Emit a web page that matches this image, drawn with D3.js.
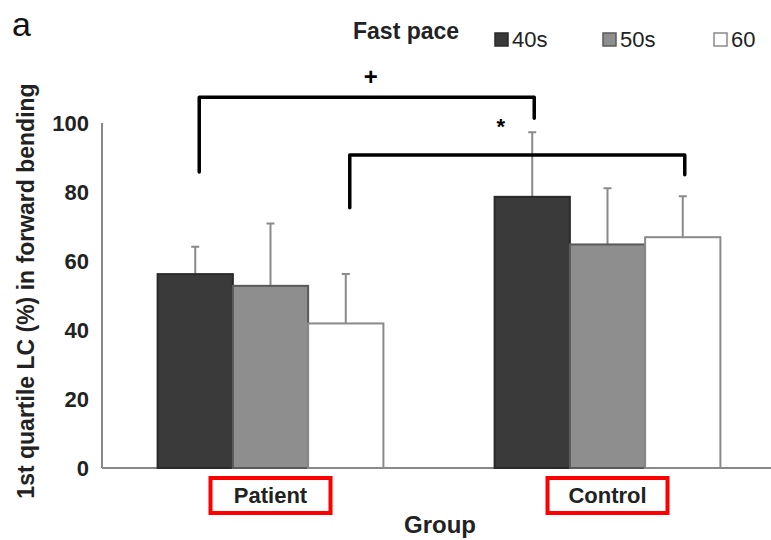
<!DOCTYPE html>
<html>
<head>
<meta charset="utf-8">
<script src="https://cdn.jsdelivr.net/npm/d3@7"></script>
<style>
body { margin: 0; background: #fff; }
text { font-family: "Liberation Sans", Arial, sans-serif; }
</style>
</head>
<body>
<script>
//data
var groups = ["Patient", "Control"];
var series = ["40s", "50s", "60"];
var means = [[56.2, 52.8, 41.9], [78.6, 64.8, 66.9]];
var errs = [[7.9, 18.1, 14.3], [18.7, 16.3, 11.9]];
var yTicks = [0, 20, 40, 60, 80, 100];
// brackets: [from group, from series, to group, to series, level, left leg end, right leg end, mark]
var brackets = [
    [0, 0, 1, 0, 107.5, 85.8, 101.4, "+"],
    [0, 2, 1, 2, 90.7, 75.4, 85, "*"]
];

var W = 771, H = 540;
var m = [123, 0, 72, 102]; //top right bottom left
var fills = ["#3a3a3a", "#8e8e8e", "#ffffff"];
var strokes = ["#2a2a2a", "#5a5a5a", "#8a8a8a"];

var svg = d3.select("body").append("svg")
    .attr("width", W)
    .attr("height", H);

//scales
var x0 = d3.scaleBand()
    .domain(groups)
    .range([m[3], 776])
    .paddingInner(0.33)
    .paddingOuter(0.165);
var x1 = d3.scaleBand()
    .domain(series)
    .range([0, x0.bandwidth()]);
var y = d3.scaleLinear()
    .domain([0, 100])
    .range([H - m[2], m[0]]);

//axes
svg.append("line")
    .attr("x1", m[3]).attr("x2", m[3])
    .attr("y1", y(100)).attr("y2", y(0))
    .attr("stroke", "#888").attr("stroke-width", 2);
svg.append("line")
    .attr("x1", m[3]).attr("x2", W)
    .attr("y1", y(0)).attr("y2", y(0))
    .attr("stroke", "#888").attr("stroke-width", 2);

svg.append("g").selectAll(".tick")
    .data(yTicks)
    .enter().append("text")
    .text(function (d) { return d; })
    .attr("x", 89)
    .attr("y", function (d) { return y(d); })
    .attr("dy", ".36em")
    .attr("text-anchor", "end")
    .attr("font-size", 22)
    .attr("font-weight", "bold")
    .attr("fill", "#222");

//bars
var rows = [];
groups.forEach(function (g, i) {
    series.forEach(function (s, j) {
        rows.push({ g: g, s: s, j: j, v: means[i][j], e: errs[i][j] });
    });
});

var gBars = svg.append("g");
// error bars (upper half only)
gBars.selectAll(".err")
    .data(rows)
    .enter().append("path")
    .attr("d", function (d) {
        var cx = x0(d.g) + x1(d.s) + x1.bandwidth() / 2;
        return "M" + cx + "," + y(d.v) + "V" + y(d.v + d.e) + "M" + (cx - 4) + "," + y(d.v + d.e) + "H" + (cx + 4);
    })
    .attr("stroke", "#8a8a8a")
    .attr("stroke-width", 2)
    .attr("fill", "none");

gBars.selectAll(".bar")
    .data(rows)
    .enter().append("rect")
    .attr("x", function (d) { return x0(d.g) + x1(d.s); })
    .attr("y", function (d) { return y(d.v); })
    .attr("width", x1.bandwidth())
    .attr("height", function (d) { return y(0) - y(d.v); })
    .attr("fill", function (d) { return fills[d.j]; })
    .attr("stroke", function (d) { return strokes[d.j]; })
    .attr("stroke-width", 2);

//significance brackets
brackets.forEach(function (b, k) {
    var xa = x0(groups[b[0]]) + x1(series[b[1]]) + x1.bandwidth() / 2 + 4;
    var xb = x0(groups[b[2]]) + x1(series[b[3]]) + x1.bandwidth() / 2 + 2;
    svg.append("path")
        .attr("d", "M" + xa + "," + y(b[5]) + "V" + y(b[4]) + "H" + xb + "V" + y(b[6]))
        .attr("fill", "none")
        .attr("stroke", "#000")
        .attr("stroke-width", 3.5)
        .attr("stroke-linejoin", "round")
        .attr("stroke-linecap", "round");
    svg.append("text")
        .text(b[7])
        .attr("x", k == 0 ? (xa + xb) / 2 + 4 : xb - 184)
        .attr("y", k == 0 ? y(b[4]) - 12 : y(b[4]) - 21)
        .attr("text-anchor", "middle")
        .attr("font-size", k == 0 ? 24 : 22)
        .attr("font-weight", "bold");
});

//category labels in red boxes
var gLab = svg.append("g").selectAll(".cat")
    .data(groups)
    .enter().append("g");
gLab.append("rect")
    .attr("x", function (d) { return x0(d) + x0.bandwidth() / 2 - 60; })
    .attr("y", 478)
    .attr("width", 120)
    .attr("height", 35)
    .attr("fill", "none")
    .attr("stroke", "#ff0000")
    .attr("stroke-width", 4);
gLab.append("text")
    .text(function (d) { return d; })
    .attr("x", function (d) { return x0(d) + x0.bandwidth() / 2; })
    .attr("y", 503)
    .attr("text-anchor", "middle")
    .attr("font-size", 22)
    .attr("font-weight", "bold")
    .attr("fill", "#222");

svg.append("text")
    .text("Group")
    .attr("x", 440)
    .attr("y", 533)
    .attr("text-anchor", "middle")
    .attr("font-size", 24)
    .attr("font-weight", "bold")
    .attr("fill", "#222");

svg.append("text")
    .text("1st quartile LC (%) in forward bending")
    .attr("transform", "translate(34," + 291 + ") rotate(-90)")
    .attr("text-anchor", "middle")
    .attr("font-size", 23)
    .attr("font-weight", "bold")
    .attr("fill", "#222");

svg.append("text")
    .text("a")
    .attr("x", 12)
    .attr("y", 36)
    .attr("font-size", 34)
    .attr("fill", "#111");

//legend
svg.append("text")
    .text("Fast pace")
    .attr("x", 353)
    .attr("y", 39)
    .attr("font-size", 23)
    .attr("font-weight", "bold")
    .attr("fill", "#222");

var lx = [495, 603, 714];
var leg = svg.append("g").selectAll(".leg")
    .data(series)
    .enter().append("g")
    .attr("transform", function (d, i) { return "translate(" + lx[i] + ",33)"; });
leg.append("rect")
    .attr("width", 13).attr("height", 13)
    .attr("fill", function (d, i) { return fills[i]; })
    .attr("stroke", function (d, i) { return strokes[i]; })
    .attr("stroke-width", 1.5);
leg.append("text")
    .text(function (d) { return d; })
    .attr("x", 17)
    .attr("y", 14)
    .attr("font-size", 22)
    .attr("fill", "#222");
</script>
</body>
</html>
